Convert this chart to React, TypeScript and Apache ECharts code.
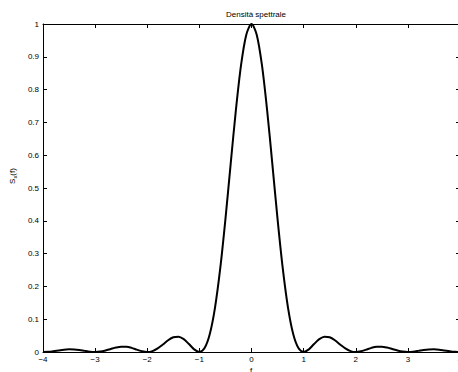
import React, { useEffect, useRef } from "react";
import * as echarts from "echarts";

const freqs = [
  -4.0, -3.9, -3.8, -3.7, -3.6, -3.5, -3.4, -3.3, -3.2, -3.1,
  -3.0, -2.9, -2.8, -2.7, -2.6, -2.5, -2.4, -2.3, -2.2, -2.1,
  -2.0, -1.9, -1.8, -1.7, -1.6, -1.5, -1.4, -1.3, -1.2, -1.1,
  -1.0, -0.9, -0.8, -0.7, -0.6, -0.5, -0.4, -0.3, -0.2, -0.1,
  0.0, 0.1, 0.2, 0.3, 0.4, 0.5, 0.6, 0.7, 0.8, 0.9,
  1.0, 1.1, 1.2, 1.3, 1.4, 1.5, 1.6, 1.7, 1.8, 1.9,
  2.0, 2.1, 2.2, 2.3, 2.4, 2.5, 2.6, 2.7, 2.8, 2.9,
  3.0, 3.1, 3.2, 3.3, 3.4, 3.5, 3.6, 3.7, 3.8, 3.9, 4.0,
];

const spectrum = [
  0.0, 0.0006, 0.0024, 0.0048, 0.0071, 0.0083, 0.0079, 0.0061, 0.0034, 0.001,
  0.0, 0.0012, 0.0045, 0.0091, 0.0136, 0.0162, 0.0159, 0.0125, 0.0072, 0.0022,
  0.0, 0.0027, 0.0108, 0.023, 0.0358, 0.045, 0.0468, 0.0392, 0.0243, 0.008,
  0.0, 0.0119, 0.0547, 0.1353, 0.2546, 0.4053, 0.5728, 0.7368, 0.8751, 0.9675,
  1.0, 0.9675, 0.8751, 0.7368, 0.5728, 0.4053, 0.2546, 0.1353, 0.0547, 0.0119,
  0.0, 0.008, 0.0243, 0.0392, 0.0468, 0.045, 0.0358, 0.023, 0.0108, 0.0027,
  0.0, 0.0022, 0.0072, 0.0125, 0.0159, 0.0162, 0.0136, 0.0091, 0.0045, 0.0012,
  0.0, 0.001, 0.0034, 0.0061, 0.0079, 0.0083, 0.0071, 0.0048, 0.0024, 0.0006, 0.0,
];

const titleText = "Densità spettrale";
const xLabel = "f";

const FONT = "'Liberation Sans', Arial, Helvetica, sans-serif";

export default function App() {
  const ref = useRef<HTMLDivElement>(null);

  useEffect(() => {
    if (!ref.current) return;
    const chart = echarts.init(ref.current, undefined, { renderer: "svg" });
    const axisCommon = {
      axisLine: { show: true, onZero: false, lineStyle: { color: "#000", width: 1 } },
      axisTick: { show: true, inside: true, length: 4, lineStyle: { color: "#000", width: 1 } },
      splitLine: { show: false },
    };
    chart.setOption({
      animation: false,
      backgroundColor: "#fff",
      title: {
        text: titleText,
        left: 251,
        textAlign: "center",
        top: 5,
        textStyle: { fontFamily: FONT, fontSize: 8, fontWeight: "normal", color: "#000" },
      },
      grid: {
        left: 43,
        top: 24,
        width: 417,
        height: 328,
        containLabel: false,
        outerBoundsMode: "none",
      },
      xAxis: [
        {
          type: "value",
          min: -4,
          max: 4,
          interval: 1,
          position: "bottom",
          ...axisCommon,
          axisLabel: {
            fontFamily: FONT,
            fontSize: 8,
            color: "#000",
            margin: 3,
            formatter: (v: number) => (v < 0 ? "\u2212" + Math.abs(v) : String(v)),
          },
        },
        {
          type: "value",
          min: -4,
          max: 4,
          interval: 1,
          position: "top",
          ...axisCommon,
          axisLabel: { show: false },
        },
      ],
      yAxis: [
        {
          type: "value",
          min: 0,
          max: 1,
          interval: 0.1,
          position: "left",
          ...axisCommon,
          axisLabel: {
            fontFamily: FONT,
            fontSize: 8,
            color: "#000",
            margin: 4,
            formatter: (v: number) => String(Math.round(v * 10) / 10),
          },
        },
        {
          type: "value",
          min: 0,
          max: 1,
          interval: 0.1,
          position: "right",
          ...axisCommon,
          axisLabel: { show: false },
        },
      ],
      series: [
        {
          type: "line",
          xAxisIndex: 0,
          yAxisIndex: 0,
          data: freqs.map((f, i) => [f, spectrum[i]]),
          smooth: 0.3,
          showSymbol: false,
          clip: false,
          lineStyle: { color: "#000", width: 2 },
        },
      ],
      graphic: [
        {
          type: "text",
          x: 12,
          y: 176,
          rotation: Math.PI / 2,
          style: {
            text: "{a|S}{b|x}{a|(f)}",
            rich: {
              a: { fontFamily: FONT, fontSize: 8, color: "#000" },
              b: { fontFamily: FONT, fontSize: 6, color: "#000", padding: [5, 0, 0, 0] },
            },
            fill: "#000",
            align: "center",
            verticalAlign: "middle",
          },
        },
        {
          type: "text",
          x: 251,
          y: 366,
          style: {
            text: xLabel,
            fontFamily: FONT,
            fontSize: 8,
            fill: "#000",
            align: "center",
            verticalAlign: "top",
          },
        },
      ],
    });
    return () => chart.dispose();
  }, []);

  return (
    <div
      ref={ref}
      style={{ position: "fixed", left: 0, top: 0, width: 458, height: 372, background: "#fff" }}
    />
  );
}
